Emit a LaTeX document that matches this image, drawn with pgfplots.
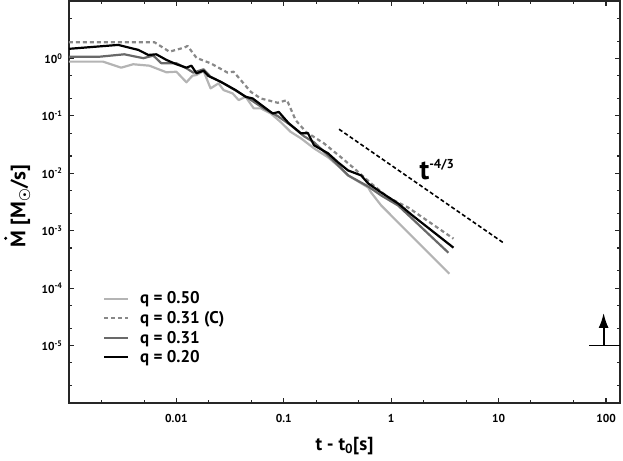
\documentclass[border=0pt]{standalone}
\usepackage{fontspec}
\setmainfont{PT Sans}
\usepackage{pgfplots}
\pgfplotsset{compat=1.18}
\usetikzlibrary{arrows.meta}

\definecolor{qfifty}{RGB}{180,180,180}
\definecolor{qthirtyc}{RGB}{136,136,136}
\definecolor{qthirty}{RGB}{105,105,105}

\newcommand{\Mdot}{\rlap{\hspace{0.36em}\raisebox{0.86em}{\tikz\fill (0,0) circle (1.7bp);}}M}

\begin{document}
\begin{tikzpicture}
\begin{axis}[
  scale only axis,
  width=551bp, height=402bp,
  xmode=log, ymode=log,
  xmin=1e-3, xmax=135,
  ymin=1e-6, ymax=10,
  xtick={0.01,0.1,1,10,100},
  xticklabels={0.01,0.1,1,10,100},
  ytick={1e-5,1e-4,1e-3,1e-2,1e-1,1},
  yticklabels={10\textsuperscript{-5},10\textsuperscript{-4},10\textsuperscript{-3},10\textsuperscript{-2},10\textsuperscript{-1},10\textsuperscript{0}},
  minor xtick={0.002,0.005,0.02,0.05,0.2,0.5,2,5,20,50},
  minor ytick={2e-6,5e-6,2e-5,5e-5,2e-4,5e-4,2e-3,5e-3,2e-2,5e-2,0.2,0.5,2,5},
  major tick length=5bp, minor tick length=3bp,
  axis line style={line width=1.3bp, black!85},
  every tick/.style={line width=1.1bp, black!85},
  tick label style={font=\fontsize{11.5}{11.5}\selectfont\bfseries},
  xticklabel style={yshift=-8bp},
  yticklabel style={xshift=-3bp},
  xlabel={t - t\textsubscript{0}[s]},
  ylabel={\Mdot{} [M$_\odot$/s]},
  label style={font=\fontsize{19}{19}\selectfont\bfseries},
  xlabel style={at={(axis description cs:0.5,-0.107)},anchor=center},
  ylabel style={font=\fontsize{21}{21}\selectfont\bfseries\boldmath,
    at={(axis description cs:-0.094,0.49)},anchor=center},
  legend style={draw=none, fill=none,
    at={(axis description cs:0.056,0.287)}, anchor=north west,
    font=\fontsize{17}{17}\selectfont\bfseries, row sep=2bp,
    /tikz/every odd column/.append style={column sep=9bp}},
  legend cell align=left,
  legend image code/.code={\draw[#1] (0bp,0bp) -- (24bp,0bp);},
  every axis plot/.append style={line width=2.2bp, line join=round},
]

\addplot[qfifty] coordinates {
(0.001,0.879) (0.00208,0.879) (0.00306,0.690) (0.00396,0.792) (0.00560,0.748)
(0.00807,0.574) (0.0100,0.587) (0.0124,0.384) (0.0141,0.500) (0.0154,0.515)
(0.0179,0.605) (0.0208,0.301) (0.0247,0.368) (0.0275,0.281) (0.0334,0.246)
(0.0380,0.188) (0.0441,0.215) (0.0525,0.135) (0.0610,0.135) (0.0757,0.110)
(0.0938,0.0776) (0.116,0.0525) (0.144,0.0408) (0.191,0.0272) (0.258,0.0190)
(0.341,0.0122) (0.397,0.00919) (0.610,0.00566) (0.650,0.00463) (0.807,0.00275)
(3.48,1.78e-4)
};
\addlegendentry{q = 0.50}

\addplot[qthirtyc, dash pattern=on 4bp off 3bp] coordinates {
(0.001,1.92) (0.00623,1.92) (0.00861,1.31) (0.0119,1.55) (0.0127,1.65)
(0.0154,1.02) (0.0208,0.824) (0.0300,0.565) (0.0341,0.587) (0.0492,0.263)
(0.0610,0.201) (0.0879,0.169) (0.107,0.188) (0.129,0.0841) (0.161,0.0525)
(0.236,0.0333) (0.341,0.0190) (0.451,0.0122) (0.650,0.00666) (0.938,0.0038)
(1.44,0.00253) (3.80,7.28e-4)
};
\addlegendentry{q = 0.31 (C)}

\addplot[qthirty] coordinates {
(0.001,1.07) (0.00191,1.07) (0.00327,1.18) (0.00492,1.01) (0.00610,1.12)
(0.00724,0.824) (0.0100,0.824) (0.0124,0.674) (0.0144,0.565) (0.0179,0.647)
(0.0208,0.481) (0.0275,0.368) (0.0372,0.263) (0.0471,0.201) (0.0650,0.135)
(0.0879,0.0988) (0.116,0.0688) (0.154,0.0442) (0.191,0.0347) (0.258,0.0206)
(0.397,0.00919) (0.610,0.00590) (0.807,0.00411) (1.16,0.00275) (3.41,4.14e-4)
};
\addlegendentry{q = 0.31}

\addplot[black] coordinates {
(0.001,1.47) (0.00287,1.72) (0.00441,1.41) (0.00548,1.15) (0.00650,1.18)
(0.00807,0.942) (0.0100,0.792) (0.0124,0.690) (0.0138,0.748) (0.0154,0.551)
(0.0179,0.612) (0.0199,0.494) (0.0258,0.393) (0.0356,0.281) (0.0441,0.215)
(0.0513,0.201) (0.0650,0.144) (0.0789,0.110) (0.0898,0.117) (0.111,0.0745)
(0.144,0.0499) (0.168,0.0499) (0.191,0.0308) (0.258,0.0223) (0.320,0.0155)
(0.397,0.0112) (0.525,0.00919) (0.610,0.00666) (0.807,0.00463) (1.16,0.00298)
(1.54,0.00191) (3.80,5.07e-4)
};
\addlegendentry{q = 0.20}

% t^{-4/3} guide
\addplot[black, line width=1.6bp, dash pattern=on 4bp off 2.5bp, forget plot] coordinates {
(0.327,0.0585) (11.4,5.94e-4)
};
\node[anchor=base west, inner sep=0pt] at (axis cs:1.83,7.8e-3)
  {\fontsize{28}{28}\selectfont\bfseries t\raisebox{11bp}{\fontsize{13}{13}\selectfont -4/3}};

% limit marker
\addplot[black, line width=1.8bp, forget plot] coordinates {(70,1e-5) (135,1e-5)};
\addplot[black, line width=1.8bp, -{Latex[length=15bp,width=10bp]}, forget plot]
  coordinates {(95,1e-5) (95,3.7e-5)};

\coordinate (bl) at (rel axis cs:0,0);
\coordinate (tr) at (rel axis cs:1,1);
\end{axis}
\pgfresetboundingbox
\path[use as bounding box] ([xshift=-69bp,yshift=-58bp]bl) rectangle ([xshift=3bp,yshift=1bp]tr);
\end{tikzpicture}
\end{document}
